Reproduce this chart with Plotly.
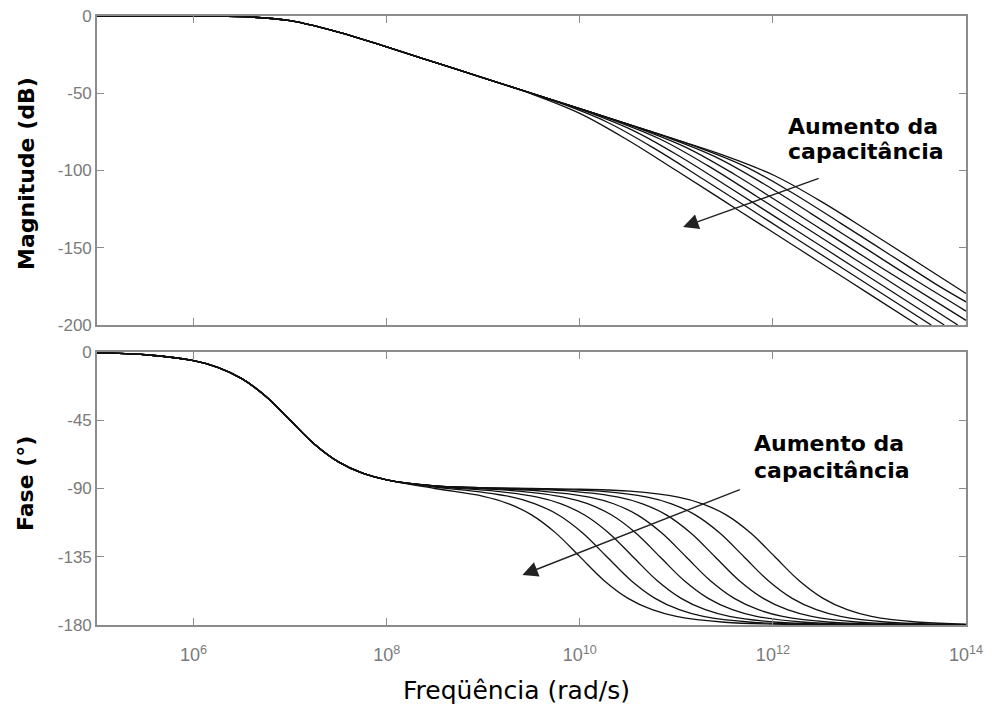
import plotly.graph_objects as go

# ---------------- data ----------------
# frequencies are stored as exponents: f = 10**exp  (rad/s)
MAG_COMMON_EXP = [5, 5.5, 6, 6.5, 7, 7.5, 8, 8.5]
MAG_COMMON_DB = [0.0, 0.0, -0.04, -0.41, -3.01, -10.41, -20.04, -30.0]

MAG_TAIL_EXP = [
    [9.0, 9.5, 10.0, 10.5, 11.0, 11.5, 12.0, 12.5, 13.0, 13.5],
    [9.0, 9.28, 9.78, 10.28, 10.78, 11.28, 11.78, 12.28, 13.0, 13.64],
    [9.0, 9.55, 10.05, 10.55, 11.05, 11.55, 12.05, 12.55, 13.2, 13.775],
    [9.0, 9.83, 10.33, 10.83, 11.33, 11.83, 12.33, 12.83, 13.4, 13.915],
    [9.0, 9.5, 10.1, 10.6, 11.1, 11.6, 12.1, 12.6, 13.1, 14.0],
    [9.0, 9.5, 10.4, 10.9, 11.4, 11.9, 12.4, 12.9, 13.4, 14.0],
    [9.0, 9.5, 10.0, 10.7, 11.2, 11.7, 12.2, 12.7, 13.2, 13.7, 14.0],
    [9.0, 9.5, 10.0, 10.5, 11.02, 11.52, 12.02, 12.52, 13.02, 13.52, 14.0],
]
MAG_TAIL_DB = [
    [-40.04, -50.41, -63.01, -80.41, -100.04, -120.0, -140.0, -160.0, -180.0, -200.0],
    [-40.01, -45.64, -56.01, -68.61, -86.01, -105.64, -125.6, -145.6, -174.4, -200.0],
    [-40.0, -51.04, -61.41, -74.01, -91.41, -111.04, -131.0, -151.0, -177.0, -200.0],
    [-40.0, -56.64, -67.01, -79.61, -97.01, -116.64, -136.6, -156.6, -179.4, -200.0],
    [-40.0, -50.0, -62.04, -72.41, -85.01, -102.41, -122.04, -142.0, -162.0, -197.0],
    [-40.0, -50.0, -68.04, -78.41, -91.01, -108.41, -128.04, -148.0, -168.0, -191.0],
    [-40.0, -50.0, -60.0, -74.04, -84.41, -97.01, -114.41, -134.04, -154.0, -174.0, -185.0],
    [-40.0, -50.0, -60.0, -70.0, -80.44, -90.81, -103.41, -120.81, -140.44, -160.4, -179.6],
]

PH_COMMON_EXP = [5, 5.5, 6, 6.25, 6.5, 6.75, 7, 7.25, 7.5, 7.75, 8]
PH_COMMON_DEG = [-0.57, -1.81, -5.71, -10.08, -17.55, -29.36, -45.0, -60.64, -72.45, -79.92, -84.29]

PH_TAIL_EXP = [
    [8.5, 9.0, 9.25, 9.5, 9.75, 10.0, 10.25, 10.5, 10.75, 11.0, 11.5, 12.0, 13.0, 14.0],
    [8.5, 8.78, 9.28, 9.53, 9.78, 10.03, 10.28, 10.53, 10.78, 11.03, 11.28, 11.78, 12.28, 13.0, 14.0],
    [8.5, 9.05, 9.55, 9.8, 10.05, 10.3, 10.55, 10.8, 11.05, 11.3, 11.55, 12.05, 12.55, 13.3, 14.0],
    [8.5, 9.0, 9.33, 9.83, 10.08, 10.33, 10.58, 10.83, 11.08, 11.33, 11.58, 11.83, 12.33, 12.83, 14.0],
    [8.5, 9.0, 9.6, 10.1, 10.35, 10.6, 10.85, 11.1, 11.35, 11.6, 11.85, 12.1, 12.6, 13.1, 14.0],
    [8.5, 9.0, 9.5, 9.9, 10.4, 10.65, 10.9, 11.15, 11.4, 11.65, 11.9, 12.15, 12.4, 12.9, 13.4, 14.0],
    [8.5, 9.0, 9.5, 10.2, 10.7, 10.95, 11.2, 11.45, 11.7, 11.95, 12.2, 12.45, 12.7, 13.2, 13.7, 14.0],
    [8.5, 9.0, 9.5, 10.0, 10.52, 11.02, 11.27, 11.52, 11.77, 12.02, 12.27, 12.52, 12.77, 13.02, 13.52, 14.0],
]
PH_TAIL_DEG = [
    [-90.0, -95.14, -99.76, -107.37, -119.26, -134.94, -150.61, -162.43, -169.91, -174.29, -178.19, -179.43, -179.94, -180.0],
    [-89.14, -90.86, -95.41, -99.91, -107.45, -119.31, -134.97, -150.62, -162.44, -169.91, -174.29, -178.19, -179.43, -179.89, -180.0],
    [-88.70, -91.30, -95.55, -99.99, -107.50, -119.33, -134.98, -150.63, -162.44, -169.92, -174.29, -178.19, -179.43, -179.90, -179.98],
    [-88.46, -90.28, -91.54, -95.62, -100.03, -107.52, -119.35, -135.0, -150.64, -162.45, -169.92, -174.29, -178.19, -179.43, -179.96],
    [-88.33, -89.88, -91.67, -95.67, -100.05, -107.54, -119.36, -135.0, -150.64, -162.45, -169.92, -174.29, -178.19, -179.43, -179.93],
    [-88.26, -89.66, -90.54, -91.74, -95.69, -100.08, -107.55, -119.36, -135.0, -150.64, -162.45, -169.92, -174.29, -178.19, -179.43, -179.86],
    [-88.23, -89.54, -90.18, -91.77, -95.70, -100.08, -107.55, -119.36, -135.0, -150.64, -162.45, -169.92, -174.29, -178.19, -179.43, -179.71],
    [-88.21, -89.49, -89.99, -90.49, -91.79, -95.71, -100.08, -107.55, -119.36, -135.0, -150.64, -162.45, -169.92, -174.29, -178.19, -179.40],
]

X_TICK_EXP = [6, 8, 10, 12, 14]
X_TICK_TEXT = ["10<sup>6</sup>", "10<sup>8</sup>", "10<sup>10</sup>", "10<sup>12</sup>", "10<sup>14</sup>"]
MAG_TICKS = [0, -50, -100, -150, -200]
MAG_TICK_TEXT = ["0", "-50", "-100", "-150", "-200"]
PH_TICKS = [0, -45, -90, -135, -180]
PH_TICK_TEXT = ["0", "-45", "-90", "-135", "-180"]

ANNOT_TEXT = ["Aumento da", "capacitância"]
MAG_TITLE = "Magnitude (dB)"
PH_TITLE = "Fase (°)"
X_TITLE = "Freqüência (rad/s)"

# ---------------- figure ----------------
fig = go.Figure()
line_style = dict(color="#111111", width=1.3, shape="spline", smoothing=1.0)

for exps, vals in zip(MAG_TAIL_EXP, MAG_TAIL_DB):
    ex = MAG_COMMON_EXP + exps
    fig.add_trace(go.Scatter(x=[10 ** e for e in ex], y=MAG_COMMON_DB + vals,
                             mode="lines", line=line_style, showlegend=False,
                             xaxis="x", yaxis="y"))
for exps, vals in zip(PH_TAIL_EXP, PH_TAIL_DEG):
    ex = PH_COMMON_EXP + exps
    fig.add_trace(go.Scatter(x=[10 ** e for e in ex], y=PH_COMMON_DEG + vals,
                             mode="lines", line=line_style, showlegend=False,
                             xaxis="x2", yaxis="y2"))

ax_col = "#8c8c8c"
tick_font = dict(family="Liberation Sans, Arial, sans-serif", size=17, color="#7a7a7a")
common_axis = dict(showline=True, linecolor=ax_col, linewidth=1.6, mirror="ticks",
                   ticks="inside", ticklen=7, tickcolor=ax_col, tickwidth=1.2,
                   showgrid=False, zeroline=False, tickfont=tick_font,
                   automargin=False, ticklabeloverflow="allow")

tickvals_x = [10 ** e for e in X_TICK_EXP]
# the page body has an 8px margin, so the figure is 980x696 drawn at (8, 8)
fig.update_layout(
    width=980, height=696,
    margin=dict(l=89, r=22, t=8, b=79, autoexpand=False),
    paper_bgcolor="white", plot_bgcolor="white",
    xaxis=dict(type="log", range=[5, 14], domain=[0, 1], anchor="y",
               tickvals=tickvals_x, ticktext=[""] * len(tickvals_x), **common_axis),
    yaxis=dict(range=[-200, 0], domain=[0.4926, 1], anchor="x",
               tickvals=MAG_TICKS, ticktext=MAG_TICK_TEXT, **common_axis),
    xaxis2=dict(type="log", range=[5, 14], domain=[0, 1], anchor="y2",
                tickvals=tickvals_x, ticktext=X_TICK_TEXT, ticklabelstandoff=13,
                **common_axis),
    yaxis2=dict(range=[-180, 0], domain=[0, 0.4483], anchor="x2",
                tickvals=PH_TICKS, ticktext=PH_TICK_TEXT, **common_axis),
)
fig.update_xaxes(tickfont=dict(family="Liberation Sans, Arial, sans-serif", size=18, color="#7a7a7a"),
                 selector=dict(anchor="y2"))

# helpers: page pixel -> paper fraction (plot area spans x 97..966, y 16..625 on the page)
def px_x(px):
    return (px - 97) / 869.0

def px_y(py):
    return 1 - (py - 16) / 609.0

title_font = dict(family="DejaVu Sans", size=22, color="black", weight="bold")
ann_font = dict(family="DejaVu Sans", size=22, color="black", weight="bold")

annotations = [
    dict(text=MAG_TITLE, xref="paper", yref="paper", x=px_x(26), y=px_y(174),
         textangle=-90, showarrow=False, font=title_font, xanchor="center", yanchor="middle"),
    dict(text=PH_TITLE, xref="paper", yref="paper", x=px_x(26), y=px_y(484),
         textangle=-90, showarrow=False, font=title_font, xanchor="center", yanchor="middle"),
    dict(text=X_TITLE, xref="paper", yref="paper", x=px_x(516), y=px_y(690),
         showarrow=False, font=dict(family="DejaVu Sans", size=25, color="black"),
         xanchor="center", yanchor="middle"),
    # top panel label
    dict(text=ANNOT_TEXT[0], xref="paper", yref="paper", x=px_x(786), y=px_y(126),
         showarrow=False, font=ann_font, xanchor="left", yanchor="middle"),
    dict(text=ANNOT_TEXT[1], xref="paper", yref="paper", x=px_x(786), y=px_y(152),
         showarrow=False, font=ann_font, xanchor="left", yanchor="middle"),
    # bottom panel label
    dict(text=ANNOT_TEXT[0], xref="paper", yref="paper", x=px_x(752), y=px_y(443),
         showarrow=False, font=ann_font, xanchor="left", yanchor="middle"),
    dict(text=ANNOT_TEXT[1], xref="paper", yref="paper", x=px_x(752), y=px_y(470),
         showarrow=False, font=ann_font, xanchor="left", yanchor="middle"),
    # arrows
    dict(text="", xref="x", yref="y", x=11.07, y=-136.5, axref="x", ayref="y",
         ax=12.49, ay=-104.8, showarrow=True, arrowhead=2, arrowsize=2.2,
         arrowwidth=1.4, arrowcolor="#222222", standoff=0),
    dict(text="", xref="x2", yref="y2", x=9.406, y=-147.0, axref="x2", ayref="y2",
         ax=11.673, ay=-90.3, showarrow=True, arrowhead=2, arrowsize=2.2,
         arrowwidth=1.4, arrowcolor="#222222", standoff=0),
]
fig.update_layout(annotations=annotations)

fig.write_html("out.html")
